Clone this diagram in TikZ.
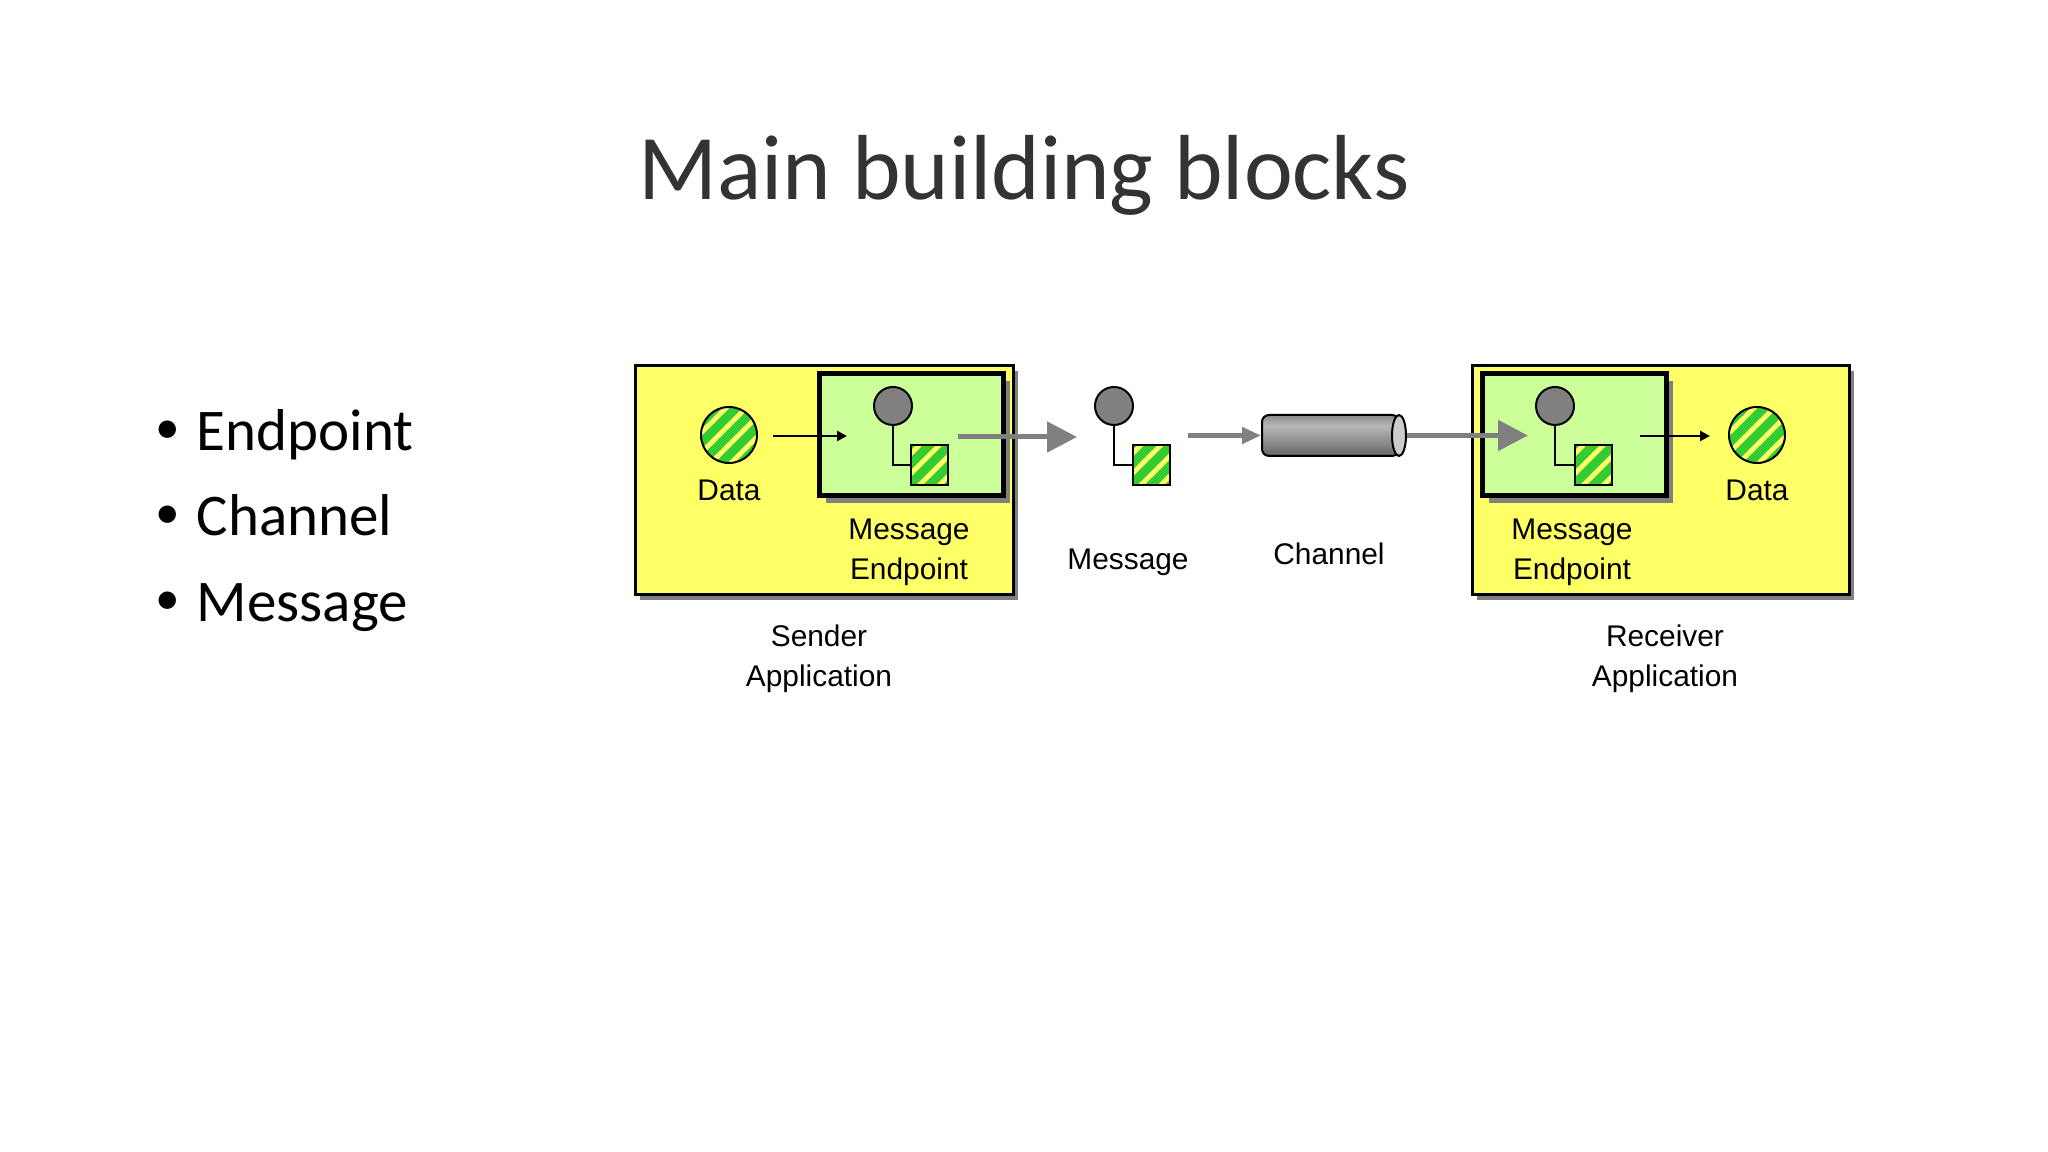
\documentclass[tikz,border=0pt]{standalone}
\usepackage{fontspec}
\setmainfont{Carlito}
\newfontfamily\labelfont{Liberation Sans}
\usepackage{xcolor}
\usetikzlibrary{arrows.meta,calc,shadows,shapes.geometric}
\definecolor{appyellow}{HTML}{FFFF66}
\definecolor{endpointgreen}{HTML}{CCFF99}
\definecolor{stripegreen}{HTML}{33CC33}
\definecolor{blockgray}{HTML}{808080}
\pgfdeclareverticalshading{pipeshade}{100bp}{color(0bp)=(black!60); color(25bp)=(black!60); color(62bp)=(black!28); color(75bp)=(black!45); color(100bp)=(black!45)}
\newcommand{\itemdot}{\makebox[0.41cm][l]{\raisebox{1.9pt}{\fontsize{14pt}{14pt}\selectfont\textbullet}}}

\begin{document}
\begin{tikzpicture}[
    slidetitle/.style={font=\fontsize{26.3pt}{30pt}\selectfont, text=black!80},
    bullet/.style={anchor=base west, inner sep=0pt, font=\fontsize{16.8pt}{20pt}\selectfont, text=black},
    app/.style={rectangle, draw=black, fill=appyellow, line width=0.03cm, minimum width=3.78cm, minimum height=2.29cm, inner sep=0pt, drop shadow={shadow xshift=0.05cm, shadow yshift=-0.05cm, fill=blockgray, opacity=1}},
    endpoint/.style={rectangle, draw=black, fill=endpointgreen, line width=0.05cm, minimum width=1.84cm, minimum height=1.22cm, inner sep=0pt, drop shadow={shadow xshift=0.07cm, shadow yshift=-0.07cm, fill=blockgray, opacity=1}},
    hatched/.style={fill=appyellow, draw=black, line width=0.02cm, inner sep=0pt, path picture={
        \foreach \s in {-5,...,5}
            \draw[stripegreen, line width=0.09cm] ($(path picture bounding box.center)+(\s*0.2,0)+(-0.5,-0.5)$) -- ++(1,1);
    }},
    datadot/.style={circle, hatched, minimum size=0.56cm},
    bodybox/.style={rectangle, hatched, minimum width=0.37cm, minimum height=0.4cm},
    headerdot/.style={circle, draw=black, fill=blockgray, line width=0.02cm, minimum size=0.38cm, inner sep=0pt},
    pipe/.style={rectangle, draw=black, shading=pipeshade, line width=0.02cm, minimum width=1.37cm, minimum height=0.41cm, inner sep=0pt, rounded corners=2pt},
    pipecap/.style={ellipse, draw=black, fill=black!20, line width=0.02cm, minimum width=0.14cm, minimum height=0.41cm, inner sep=0pt},
    caption/.style={font=\labelfont\fontsize{8.5pt}{11.3pt}\selectfont, align=center, text=black, inner sep=0pt},
    dataarrow/.style={-{Triangle[length=0.1cm, width=0.1cm]}, line width=0.025cm, black},
    bigarrow/.style={-{Triangle[length=0.3cm, width=0.3cm]}, line width=0.05cm, blockgray},
    smallarrow/.style={-{Triangle[length=0.19cm, width=0.16cm]}, line width=0.05cm, blockgray}
]
\useasboundingbox (0,0) rectangle (20.48,11.52);

% Title and list
\node[slidetitle] (title) at (10.24,9.77) {Main building blocks};
\node[bullet] (itemone) at (1.55,7.015) {\itemdot Endpoint};
\node[bullet] (itemtwo) at (1.55,6.165) {\itemdot Channel};
\node[bullet] (itemthree) at (1.55,5.305) {\itemdot Message};

% Applications
\node[app] (sender) at (8.24,6.715) {};
\node[app, minimum width=3.77cm] (receiver) at (16.605,6.715) {};
\node[endpoint] (sendpoint) at (9.11,7.17) {};
\node[endpoint] (recvpoint) at (15.74,7.17) {};

% Data
\node[datadot] (senddata) at (7.29,7.17) {};
\node[datadot] (recvdata) at (17.57,7.17) {};

% Messages
\node[headerdot] (sendhead) at (8.93,7.46) {};
\node[bodybox] (sendbody) at (9.295,6.87) {};
\node[headerdot] (msghead) at (11.14,7.46) {};
\node[bodybox] (msgbody) at (11.51,6.87) {};
\node[headerdot] (recvhead) at (15.55,7.46) {};
\node[bodybox] (recvbody) at (15.935,6.87) {};
\draw[line width=0.02cm] (sendhead.south) |- (sendbody.west);
\draw[line width=0.02cm] (msghead.south) |- (msgbody.west);
\draw[line width=0.02cm] (recvhead.south) |- (recvbody.west);

% Channel
\node[pipe] (channel) at (13.305,7.165) {};
\node[pipecap] (channelend) at (13.99,7.165) {};

% Free ends inside the endpoints
\coordinate (sendstart) at (7.73,7.16);
\coordinate (sendin) at (8.47,7.16);
\coordinate (sendout) at (9.58,7.15);
\coordinate (msgin) at (10.77,7.15);
\coordinate (msgout) at (11.88,7.165);
\coordinate (recvin) at (15.28,7.165);
\coordinate (recvout) at (16.40,7.16);
\coordinate (recvend) at (17.10,7.16);

% Connectors
\draw[dataarrow] (sendstart) -- (sendin);
\draw[dataarrow] (recvout) -- (recvend);
\draw[bigarrow] (sendout) -- (msgin);
\draw[smallarrow] (msgout) -- (channel.west);
\draw[bigarrow] (channelend.east) -- (recvin);

% Labels
\node[caption] (senddatatext) at (7.29,6.62) {Data};
\node[caption] (recvdatatext) at (17.57,6.62) {Data};
\node[caption] (sendpointtext) at (9.09,6.00) {Message\\Endpoint};
\node[caption] (recvpointtext) at (15.72,6.00) {Message\\Endpoint};
\node[caption] (msgtext) at (11.28,5.895) {Message};
\node[caption] (channeltext) at (13.29,5.98) {Channel};
\node[caption] (sendertext) at (8.19,4.93) {Sender\\Application};
\node[caption] (receivertext) at (16.65,4.93) {Receiver\\Application};
\end{tikzpicture}
\end{document}
